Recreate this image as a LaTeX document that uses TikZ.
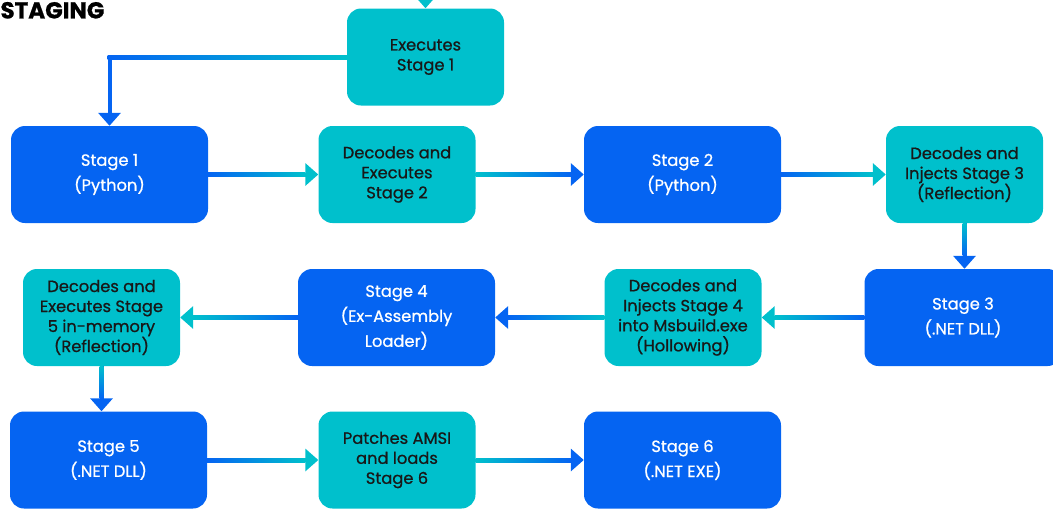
\documentclass[tikz,border=0pt]{standalone}
\usepackage{fontspec}
\setmainfont{Poppins}[FakeBold=0.8]
\usetikzlibrary{arrows.meta,calc}
\definecolor{bluebox}{RGB}{5,100,242}
\definecolor{cyanbox}{RGB}{0,192,204}
\definecolor{darktext}{RGB}{24,24,24}
% horizontal gradient under a connector: #1,#2 ends (left/right in any order), #3 colour at left, #4 colour at right
\newcommand\hgrad[4]{\shade[left color=#3, right color=#4] ($(#1)+(0,-2)$) rectangle ($(#2)+(0,2)$);}
% vertical gradient: #3 colour at top, #4 colour at bottom
\newcommand\vgrad[4]{\shade[top color=#3, bottom color=#4] ($(#1)+(-2,0)$) rectangle ($(#2)+(2,0)$);}
\begin{document}
\begin{tikzpicture}[x=1pt,y=-1pt,
  box/.style={rounded corners=14pt, minimum height=97pt, align=center, inner sep=0pt},
  bbox/.style={box, fill=bluebox, text=white, minimum width=197pt, font=\fontsize{16.3}{25}\selectfont},
  cbox/.style={box, fill=cyanbox, text=darktext, minimum width=157pt, font=\fontsize{16.3}{20}\selectfont},
  tob/.style={line width=4pt, bluebox, -{Triangle[width=22pt,length=13pt,color=bluebox]}},
  toc/.style={line width=4pt, cyanbox, -{Triangle[width=22pt,length=13pt,color=cyanbox]}},
]
\useasboundingbox (0,0) rectangle (1053,509);
\clip (0,0) rectangle (1053,509);

\node[anchor=north west, font=\bfseries\fontsize{23}{23}\selectfont] (title) at (-3,-1.5) {STAGING};

\node[cbox] (e1) at (425.5,57) {Executes\\Stage 1};
\node[bbox] (s1) at (109.5,174.5) {Stage 1\\(Python)};
\node[cbox] (d2) at (397,174.5) {Decodes and\\Executes\\Stage 2};
\node[bbox] (s2) at (682.5,174.5) {Stage 2\\(Python)};
\node[cbox] (d3) at (964.5,174.5) {Decodes and\\Injects Stage 3\\(Reflection)};
\node[bbox] (s3) at (963,317.5) {Stage 3\\(.NET DLL)};
\node[cbox] (d4) at (683,317.5) {Decodes and\\Injects Stage 4\\into Msbuild.exe\\(Hollowing)};
\node[bbox] (s4) at (396.5,317.5) {Stage 4\\(Ex-Assembly\\Loader)};
\node[cbox] (d5) at (101.5,317.5) {Decodes and\\Executes Stage\\5 in-memory\\(Reflection)};
\node[bbox] (s5) at (108.5,460) {Stage 5\\(.NET DLL)};
\node[cbox] (p6) at (397,460) {Patches AMSI\\and loads\\Stage 6};
\node[bbox] (s6) at (682.5,460) {Stage 6\\(.NET EXE)};

\coordinate (top) at (425.5,-30);
\coordinate (c1) at (s1.north |- e1.west);
\draw[toc] (top) -- (e1.north);
\draw[tob] (e1.west) -- (c1) -- (s1.north);
\hgrad{$(c1)+(-2,0)$}{e1.west}{bluebox}{cyanbox}
\draw[toc] (s1.east) -- (d2.west);
\hgrad{s1.east}{$(d2.west)!13pt!(s1.east)$}{bluebox}{cyanbox}
\draw[tob] (d2.east) -- (s2.west);
\hgrad{d2.east}{$(s2.west)!13pt!(d2.east)$}{cyanbox}{bluebox}
\draw[toc] (s2.east) -- (d3.west);
\hgrad{s2.east}{$(d3.west)!13pt!(s2.east)$}{bluebox}{cyanbox}
\coordinate (c3) at (d3.south |- s3.north);
\draw[tob] (d3.south) -- (c3);
\vgrad{d3.south}{$(c3)!13pt!(d3.south)$}{cyanbox}{bluebox}
\draw[toc] (s3.west) -- (d4.east);
\hgrad{$(d4.east)!13pt!(s3.west)$}{s3.west}{cyanbox}{bluebox}
\draw[tob] (d4.west) -- (s4.east);
\hgrad{$(s4.east)!13pt!(d4.west)$}{d4.west}{bluebox}{cyanbox}
\draw[toc] (s4.west) -- (d5.east);
\hgrad{$(d5.east)!13pt!(s4.west)$}{s4.west}{cyanbox}{bluebox}
\coordinate (c5) at (d5.south |- s5.north);
\draw[tob] (d5.south) -- (c5);
\vgrad{d5.south}{$(c5)!13pt!(d5.south)$}{cyanbox}{bluebox}
\draw[toc] (s5.east) -- (p6.west);
\hgrad{s5.east}{$(p6.west)!13pt!(s5.east)$}{bluebox}{cyanbox}
\draw[tob] (p6.east) -- (s6.west);
\hgrad{p6.east}{$(s6.west)!13pt!(p6.east)$}{cyanbox}{bluebox}
\end{tikzpicture}
\end{document}
